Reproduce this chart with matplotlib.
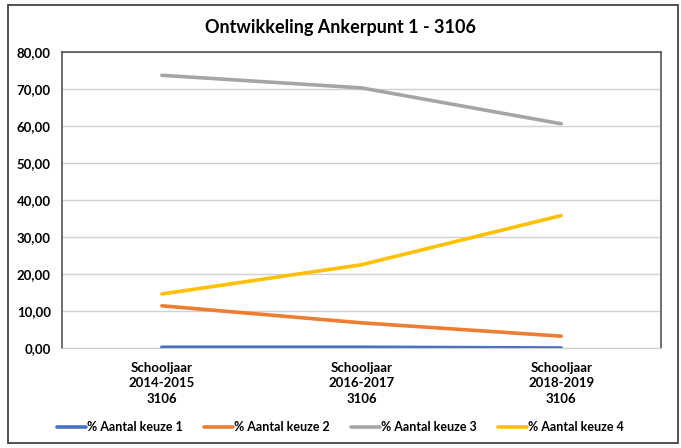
import numpy as np
import matplotlib
matplotlib.use("Agg")
import matplotlib.pyplot as plt
from matplotlib.patches import Rectangle

plt.rcParams['font.family'] = ['Lato', 'DejaVu Sans']

# Data
categories = ['Schooljaar\n2014-2015\n3106', 'Schooljaar\n2016-2017\n3106', 'Schooljaar\n2018-2019\n3106']
keuze1 = [0.2, 0.2, 0.0]
keuze2 = [11.4, 6.8, 3.2]
keuze3 = [73.7, 70.3, 60.6]
keuze4 = [14.6, 22.5, 35.8]
series_names = ['% Aantal keuze 1', '% Aantal keuze 2', '% Aantal keuze 3', '% Aantal keuze 4']
colors = ['#4472C4', '#ED7D31', '#A5A5A5', '#FFC000']

fig = plt.figure(figsize=(6.81, 4.48), dpi=100)
ax = fig.add_axes([62/681, 1 - 348/448, 599/681, 296/448])

x = np.arange(len(categories))
for vals, name, c in zip([keuze1, keuze2, keuze3, keuze4], series_names, colors):
    ax.plot(x, vals, color=c, lw=2.6, label=name, solid_capstyle='round')

ax.set_xlim(-0.5, 2.5)
ax.set_ylim(0, 80)
ax.set_yticks(np.arange(0, 81, 10))
ax.set_yticklabels([f'{v:.2f}'.replace('.', ',') for v in np.arange(0, 81, 10)],
                   fontsize=9.5, fontweight='bold')
ax.set_xticks(x)
ax.set_xticklabels(categories, fontsize=9.5, fontweight='bold', linespacing=1.35)
ax.tick_params(length=0, pad=8)
ax.tick_params(axis='x', pad=10)
ax.grid(axis='y', color='#d0d0d0', lw=1)
ax.set_axisbelow(True)
for s in ['left', 'right', 'top']:
    ax.spines[s].set_color('#555555')
    ax.spines[s].set_linewidth(1.2)
ax.spines['bottom'].set_color('#cccccc')

fig.text(0.5, 1 - 27/448, 'Ontwikkeling Ankerpunt 1 - 3106', ha='center', va='center',
         fontsize=13, fontweight='bold')

fig.legend(loc='center', bbox_to_anchor=(0.5, 1 - 427/448), ncol=4, frameon=False,
           prop={'size': 9, 'weight': 'bold'}, handlelength=2.3, handletextpad=0.1,
           columnspacing=1.7)

fig.patches.append(Rectangle((8/681, 5/448), 670/681, 438/448, transform=fig.transFigure,
                             fill=False, edgecolor='#333333', lw=1.2))

fig.savefig('out.png', dpi=100)
